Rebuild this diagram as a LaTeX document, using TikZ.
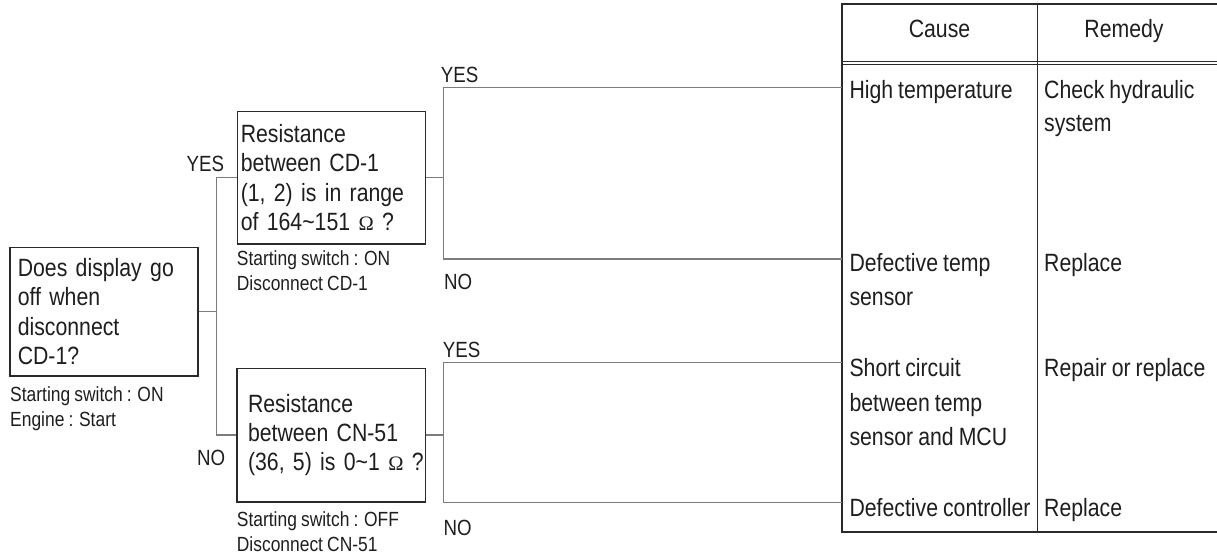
\documentclass[tikz,border=0pt]{standalone}
\usepackage{fontspec}
\setmainfont{Liberation Sans}[FakeStretch=0.85, WordSpace=0.85]
\newfontfamily\omfont{Liberation Serif}
\definecolor{txt}{HTML}{1E1E1E}
\definecolor{boxc}{HTML}{2A2A2A}
\definecolor{connc}{HTML}{7C7C7C}
\begin{document}
\begin{tikzpicture}[x=1pt,y=-1pt,
  box/.style={draw=boxc, line width=1.6pt, inner xsep=0pt, inner ysep=0pt, anchor=north west, align=left, font=\fontsize{25}{29.3}\selectfont, text=txt},
  conn/.style={draw=connc, line width=1.4pt},
  lbl/.style={font=\fontsize{22}{22}\selectfont, anchor=base west, inner sep=0pt, text=txt},
  note/.style={font=\fontsize{20.5}{25}\selectfont, anchor=base west, inner sep=0pt, text=txt},
  cell/.style={font=\fontsize{25}{33}\selectfont, anchor=base west, inner sep=0pt, text=txt},
  head/.style={font=\fontsize{25}{33}\selectfont, anchor=base, inner sep=0pt, text=txt},
  tbl/.style={draw=boxc, line width=1.8pt},
  tdiv/.style={draw=boxc, line width=1.1pt}
]
\useasboundingbox (0,0) rectangle (1217,557);
\newcommand{\ohm}{{\omfont\fontsize{20.5}{20.5}\selectfont Ω}}

% question boxes
\node[box, minimum width=188pt, minimum height=128.3pt, text width=172.6pt] (q1) at (9.3,246.7)
  {Does display go\\off when\\disconnect\\CD-1?};
\node[box, minimum width=187.8pt, minimum height=132.3pt, text width=181.2pt] (q2) at (236.7,110.7)
  {Resistance\\between CD-1\\(1, 2) is in range\\\mbox{of 164\textasciitilde151 \ohm\ ?}};
\node[box, minimum width=188.5pt, minimum height=133.5pt, text width=166pt] (q3) at (236,367.5)
  {Resistance\\between CN-51\\\mbox{(36, 5) is 0\textasciitilde1 \ohm\ ?}};

% notes
\node[note] (n1a) at (10,401.7) {Starting switch : ON};
\node[note] (n1b) at (10,426.7) {Engine : Start};
\node[note] (n2a) at (236.7,265) {Starting switch : ON};
\node[note] (n2b) at (236.7,290) {Disconnect CD-1};
\node[note] (n3a) at (236.7,526.7) {Starting switch : OFF};
\node[note] (n3b) at (236.7,551.7) {Disconnect CN-51};

% yes / no labels
\node[lbl] (y1) at (186.5,171.7) {YES};
\node[lbl] (o1) at (197,465) {NO};
\node[lbl] (y2) at (440.7,82.7) {YES};
\node[lbl] (o2) at (444,289.3) {NO};
\node[lbl] (y3) at (442.7,357.3) {YES};
\node[lbl] (o3) at (443.3,535) {NO};

% table
\draw[tbl] (1218,4) -- (841.7,4) -- (841.7,531.7) -- (1218,531.7);
\draw[tdiv] (1037.3,4) -- (1037.3,531.7);
\draw[draw=boxc, line width=0.9pt] (841.7,61) -- (1218,61);
\draw[draw=boxc, line width=0.9pt] (841.7,64.4) -- (1218,64.4);
\node[head] (hc) at (939.5,37.7) {Cause};
\node[head] (hr) at (1124,37.7) {Remedy};

\node[cell] (c1a) at (849.3,98.3) {High temperature};
\node[cell] (m1a) at (1044,98.3) {Check hydraulic};
\node[cell] (m1b) at (1044,131.7) {system};
\node[cell] (c2a) at (849.3,271.7) {Defective temp};
\node[cell] (c2b) at (849.3,305) {sensor};
\node[cell] (m2a) at (1044,271.7) {Replace};
\node[cell] (c3a) at (849.3,376.7) {Short circuit};
\node[cell] (c3b) at (849.3,411.7) {between temp};
\node[cell] (c3c) at (849.3,445) {sensor and MCU};
\node[cell] (m3a) at (1044,376.7) {Repair or replace};
\node[cell] (c4a) at (849.3,516.7) {Defective controller};
\node[cell] (m4a) at (1044,516.7) {Replace};

% connector coordinates
\coordinate (r1) at (841.7,87.3);
\coordinate (r2) at (841.7,259);
\coordinate (r3) at (841.7,362.7);
\coordinate (r4) at (841.7,502.7);
\coordinate (jx) at (216.7,0);
\coordinate (kx) at (443.3,0);

% connectors
\draw[conn] (q1.east) -- (jx |- q1.east);
\draw[conn] (q2.west) -| (jx |- q3.west) -- (q3.west);
\draw[conn] (q2.east) -- (kx |- q2.east);
\draw[conn] (r1) -| (kx |- r2) -- (r2);
\draw[conn] (q3.east) -- (kx |- q3.east);
\draw[conn] (r3) -| (kx |- r4) -- (r4);
\end{tikzpicture}
\end{document}
